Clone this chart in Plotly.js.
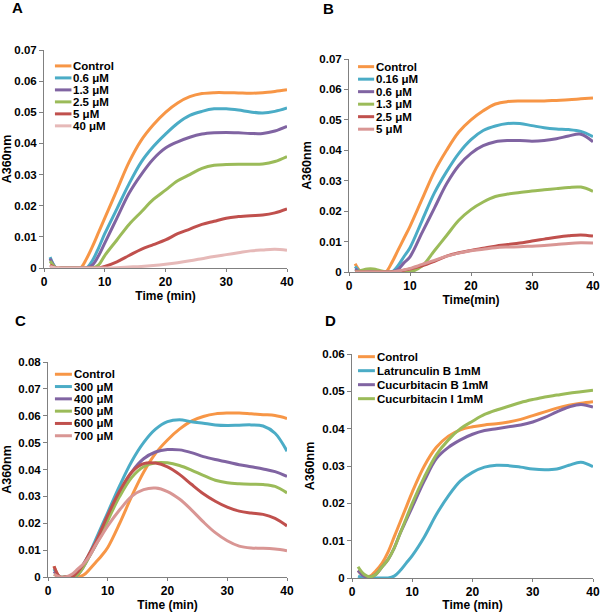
<!DOCTYPE html>
<html>
<head>
<meta charset="utf-8">
<script src="https://cdn.plot.ly/plotly-3.0.1.min.js"></script>
<style>html,body{margin:0;padding:0;background:#fff;}#chart{width:601px;height:612px;}</style>
</head>
<body>
<div id="chart"></div>
<script>
// ---------- data ----------
const time = [1,2,3,4,5,6,7,8,9,10,12,14,16,18,20,22,24,26,28,30,32,34,36,38,40];

// Panel A
const namesA = ["Control","0.6 μM","1.3 μM","2.5 μM","5 μM","40 μM"];
const a_control = [0,0,0,0,0,0,0.003,0.007,0.0115,0.016,0.025,0.034,0.041,0.046,0.050,0.053,0.055,0.056,0.0563,0.0563,0.0562,0.0561,0.0563,0.0567,0.0572];
const a_06 = [0.0035,0,0,0,0,0,0,0.0025,0.0065,0.011,0.019,0.027,0.034,0.039,0.043,0.0465,0.049,0.0503,0.0511,0.0511,0.0507,0.0501,0.0498,0.0503,0.0514];
const a_13 = [0.003,0,0,0,0,0,0,0.001,0.004,0.008,0.016,0.024,0.030,0.035,0.0385,0.0405,0.042,0.043,0.0434,0.0435,0.0434,0.0432,0.0432,0.0440,0.0455];
const a_25 = [0.0022,0,0,0,0,0,0,0,0.001,0.004,0.009,0.014,0.018,0.022,0.025,0.028,0.030,0.032,0.033,0.0332,0.0333,0.0333,0.0334,0.0342,0.0358];
const a_5 = [0.001,0,0,0,0,0,0,0,0,0.0005,0.002,0.004,0.006,0.0075,0.009,0.011,0.0125,0.014,0.015,0.016,0.0165,0.0168,0.017,0.0177,0.019];
const a_40 = [0.0005,0,0,0,0,0,0,0,0,0,0.0001,0.0003,0.0005,0.0008,0.0012,0.0017,0.0023,0.003,0.0037,0.0043,0.0049,0.0055,0.0058,0.006,0.0057];

// Panel B
const namesB = ["Control","0.16 μM","0.6 μM","1.3 μM","2.5 μM","5 μM"];
const b_control = [0.0027,0,0,0,0,0,0.003,0.007,0.011,0.015,0.024,0.033,0.040,0.046,0.050,0.053,0.0552,0.056,0.0562,0.0562,0.0562,0.0564,0.0566,0.0569,0.0572];
const b_016 = [0.0018,0,0,0,0,0,0,0.002,0.005,0.008,0.017,0.026,0.033,0.039,0.0435,0.0465,0.048,0.0488,0.0488,0.0481,0.0474,0.047,0.0468,0.0462,0.0445];
const b_06 = [0.001,0,0,0,0,0,0,0.0008,0.003,0.005,0.013,0.021,0.029,0.035,0.039,0.0415,0.0428,0.0432,0.0432,0.043,0.0432,0.0438,0.0447,0.0453,0.0428];
const b_13 = [0,0.0005,0.001,0.001,0.0005,0,0,0,0,0,0.002,0.007,0.012,0.017,0.0205,0.023,0.0248,0.0256,0.0261,0.0266,0.027,0.0274,0.0278,0.0279,0.0265];
const b_25 = [0,0,0,0,0,0,0,0.0002,0.0006,0.001,0.002,0.0035,0.0052,0.0063,0.0071,0.0078,0.0085,0.009,0.0095,0.0102,0.0108,0.0114,0.0119,0.0122,0.0118];
const b_5 = [0,0,0,0,0,0,0,0.0003,0.0007,0.0012,0.0025,0.0038,0.0052,0.0062,0.007,0.0075,0.008,0.0082,0.0083,0.0085,0.0087,0.009,0.0094,0.0096,0.0095];

// Panel C
const namesC = ["Control","300 μM","400 μM","500 μM","600 μM","700 μM"];
const c_control = [0.004,0,0,0,0,0.0008,0.003,0.0055,0.008,0.011,0.020,0.030,0.039,0.046,0.051,0.055,0.058,0.0597,0.0607,0.061,0.061,0.0607,0.0604,0.0601,0.059];
const c_300 = [0.003,0,0,0,0.001,0.005,0.009,0.014,0.019,0.024,0.034,0.043,0.050,0.055,0.0578,0.0585,0.0578,0.0572,0.0566,0.0564,0.0565,0.0566,0.0562,0.0535,0.0468];
const c_400 = [0.002,0,0,0,0.001,0.004,0.008,0.012,0.017,0.022,0.031,0.039,0.044,0.0465,0.0474,0.0473,0.0463,0.0448,0.0437,0.0428,0.0418,0.041,0.0402,0.0392,0.0374];
const c_500 = [0.001,0,0,0,0.001,0.004,0.008,0.012,0.016,0.021,0.030,0.037,0.041,0.0425,0.0425,0.0415,0.0398,0.0378,0.036,0.0351,0.0347,0.0345,0.0344,0.0337,0.0313];
const c_600 = [0.004,0,0,0,0.002,0.005,0.009,0.013,0.018,0.023,0.032,0.039,0.0422,0.0424,0.041,0.0382,0.0345,0.031,0.0282,0.026,0.0245,0.0238,0.0233,0.0218,0.019];
const c_700 = [0.001,0,0,0.001,0.003,0.005,0.008,0.012,0.0155,0.019,0.025,0.030,0.0325,0.0331,0.0318,0.029,0.025,0.0205,0.0165,0.0135,0.0115,0.0108,0.0107,0.0104,0.0098];

// Panel D
const namesD = ["Control","Latrunculin B 1mM","Cucurbitacin B 1mM","Cucurbitacin I 1mM"];
const d_control = [0.002,0.0005,0.0005,0.002,0.004,0.007,0.011,0.015,0.019,0.023,0.030,0.035,0.038,0.0397,0.0405,0.041,0.0413,0.0418,0.0425,0.0435,0.0445,0.0455,0.0463,0.0468,0.0472];
const d_latB = [0.0005,0,0,0,0,0,0.0005,0.002,0.004,0.006,0.011,0.017,0.022,0.026,0.0283,0.0297,0.0302,0.0301,0.0297,0.0292,0.029,0.0292,0.0302,0.031,0.0298];
const d_cucB = [0.002,0.0005,0.0003,0.001,0.003,0.005,0.008,0.012,0.0155,0.019,0.026,0.032,0.035,0.037,0.0385,0.0395,0.040,0.0405,0.041,0.0418,0.043,0.0445,0.0458,0.0465,0.0458];
const d_cucI = [0.003,0.001,0.0003,0.001,0.003,0.005,0.008,0.012,0.016,0.020,0.027,0.033,0.037,0.040,0.042,0.0438,0.045,0.046,0.047,0.0478,0.0485,0.049,0.0495,0.0499,0.0503];

const panelLetters = ["A","B","C","D"];
const xTitles = ["Time (min)","Time(min)","Time (min)","Time (min)"];
const yTitle = "A360nm";

// ---------- styling ----------
const ORANGE="#F79646", BLUE="#4BACC6", PURPLE="#8064A2", GREEN="#9BBB59", RED="#C0504D";
const colorsA=[ORANGE,BLUE,PURPLE,GREEN,RED,"#E6B9B8"];
const colorsB=[ORANGE,BLUE,PURPLE,GREEN,RED,"#D99694"];
const colorsC=[ORANGE,BLUE,PURPLE,GREEN,RED,"#D99694"];
const colorsD=[ORANGE,BLUE,PURPLE,GREEN];

const panels = [
  {series:[a_control,a_06,a_13,a_25,a_5,a_40], names:namesA, colors:colorsA, ymax:0.07,
   dom:{x:[44,287], y:[50,268]}, leg:{x0:0.045,x1:0.113,tx:0.116,y0:0.927,dy:0.055}, letter:[17,8]},
  {series:[b_control,b_016,b_06,b_13,b_25,b_5], names:namesB, colors:colorsB, ymax:0.07,
   dom:{x:[349,593], y:[59,272]}, leg:{x0:0.037,x1:0.103,tx:0.106,y0:0.964,dy:0.0587}, letter:[328,9]},
  {series:[c_control,c_300,c_400,c_500,c_600,c_700], names:namesC, colors:colorsC, ymax:0.08,
   dom:{x:[48,287], y:[362,577]}, leg:{x0:0.029,x1:0.1,tx:0.105,y0:0.943,dy:0.0572}, letter:[21,320]},
  {series:[d_control,d_latB,d_cucB,d_cucI], names:namesD, colors:colorsD, ymax:0.06,
   dom:{x:[352,593], y:[354,578]}, leg:{x0:0.025,x1:0.095,tx:0.0996,y0:0.988,dy:0.0625}, letter:[330,320]}
];

const W=601, H=612;
const FONT = {family:'Arial, "Liberation Sans", sans-serif', color:'#000', weight:'bold'};
const traces=[], shapes=[], annotations=[];
const layout = {width:W, height:H, margin:{l:0,r:0,t:0,b:0}, paper_bgcolor:'#fff', plot_bgcolor:'#fff', showlegend:false, font:FONT};

panels.forEach((p,i)=>{
  const k = i===0 ? '' : String(i+1);
  const xa='x'+k, ya='y'+k;
  p.series.forEach((s,j)=>{
    traces.push({x:time, y:s, name:p.names[j], type:'scatter', mode:'lines', xaxis:xa, yaxis:ya,
      line:{color:p.colors[j], width:3, shape:'spline', smoothing:1}, hoverinfo:'skip'});
    // legend sample + label
    const yy = p.leg.y0 - j*p.leg.dy;
    shapes.push({type:'line', xref:xa+' domain', yref:ya+' domain', x0:p.leg.x0, x1:p.leg.x1, y0:yy, y1:yy,
      line:{color:p.colors[j], width:3}});
    annotations.push({xref:xa+' domain', yref:ya+' domain', x:p.leg.tx, y:yy, xanchor:'left', yanchor:'middle',
      text:p.names[j], showarrow:false, borderpad:0, font:Object.assign({}, FONT, {size:11.5})});
  });
  layout['xaxis'+k] = {domain:[p.dom.x[0]/W, p.dom.x[1]/W], anchor:ya, range:[0,40], tick0:0, dtick:10,
    showline:true, linecolor:'#808080', linewidth:1, ticks:'outside', ticklen:3, tickcolor:'#808080',
    showgrid:false, zeroline:false, tickfont:Object.assign({}, FONT, {size:12}),
    title:{text:xTitles[i], font:Object.assign({}, FONT, {size:12}), standoff:1}};
  layout['yaxis'+k] = {domain:[1-p.dom.y[1]/H, 1-p.dom.y[0]/H], anchor:xa, range:[0,p.ymax], tick0:0, dtick:0.01,
    showline:true, linecolor:'#808080', linewidth:1, ticks:'outside', ticklen:4, tickcolor:'#808080',
    showgrid:false, zeroline:false, tickfont:Object.assign({}, FONT, {size:11.5}),
    title:{text:yTitle, font:Object.assign({}, FONT, {size:12.5}), standoff:4}};
  annotations.push({xref:'paper', yref:'paper', x:p.letter[0]/W, y:1-p.letter[1]/H, xanchor:'center', yanchor:'middle',
    text:panelLetters[i], showarrow:false, font:Object.assign({}, FONT, {size:15})});
});
layout.shapes = shapes;
layout.annotations = annotations;

Plotly.newPlot('chart', traces, layout, {staticPlot:true, displayModeBar:false});
</script>
</body>
</html>
